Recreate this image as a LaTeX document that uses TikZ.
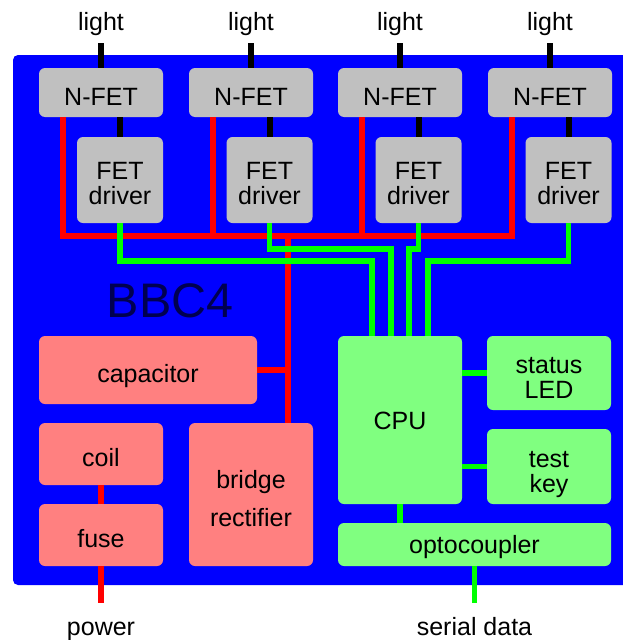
\documentclass[tikz,border=0pt]{standalone}
\usepackage{fontspec}
\setmainfont{Liberation Sans}
\usetikzlibrary{calc}
\definecolor{bgblue}{RGB}{0,0,255}
\definecolor{boxgray}{RGB}{192,192,192}
\definecolor{boxpink}{RGB}{255,128,128}
\definecolor{boxgreen}{RGB}{128,255,128}
\definecolor{wred}{RGB}{255,0,0}
\definecolor{wgreen}{RGB}{0,255,0}
\definecolor{navytext}{RGB}{0,0,80}
% centred lines; last baseline lowered by #2 below the box centre
\newcommand\btext[2]{\raisebox{-#2}[0pt][0pt]{\vbox{\halign{\hfil##\hfil\cr#1\cr}}}}
\begin{document}
\begin{tikzpicture}[x=1pt,y=-1pt,
  box/.style={rounded corners=6pt, inner sep=0pt, font=\fontsize{25}{25}\selectfont, text=black},
  grayb/.style={box, fill=boxgray},
  pinkb/.style={box, fill=boxpink},
  greenb/.style={box, fill=boxgreen},
  lbl/.style={font=\fontsize{25}{25}\selectfont, inner sep=0pt, anchor=base, text=black},
  blackw/.style={line width=6pt, draw=black},
  redw/.style={line width=6pt, draw=wred},
  greenw/.style={line width=5.5pt, draw=wgreen},
]
\useasboundingbox (0,0) rectangle (623,640);
% board
\fill[bgblue] (623,55) -- (18,55) arc[start angle=270, end angle=180, radius=5]
  -- (13,580) arc[start angle=180, end angle=90, radius=5] -- (623,585) -- cycle;
\node[lbl, font=\fontsize{48.5}{50}\selectfont, text=navytext] (title) at (170,317) {BBC4};

% N-FETs and drivers
\foreach \i/\xa/\xb in {1/101/120, 2/251/269.5, 3/400/418.5, 4/550/568.5} {
  \node[grayb, minimum width=124pt, minimum height=49pt] (nfet\i) at (\xa,92.5) {\btext{N-FET}{12.5pt}};
  \node[grayb, minimum width=86pt, minimum height=86pt] (drv\i) at (\xb,180) {\btext{FET\cr driver}{24pt}};
  \node[lbl] (light\i) at (\xa,30.5) {light};
  \coordinate (lt\i) at (\xa,43);
  \coordinate (r\i) at ($(nfet\i.south west)+(24.5,0)$);
}

% power section
\node[pinkb, minimum width=218pt, minimum height=68pt] (cap) at (148,370) {\btext{capacitor}{12pt}};
\node[pinkb, minimum width=124pt, minimum height=62pt] (coil) at (101,454) {\btext{coil}{12.5pt}};
\node[pinkb, minimum width=124pt, minimum height=62pt] (fuse) at (101,535) {\btext{fuse}{12.5pt}};
\node[pinkb, minimum width=124pt, minimum height=143pt] (bridge) at (251,494.5)
  {\btext{bridge\cr\noalign{\vskip13.5pt}rectifier}{32pt}};

% logic section
\node[greenb, minimum width=124pt, minimum height=168pt] (cpu) at (400,420) {\btext{CPU}{9pt}};
\node[greenb, minimum width=124pt, minimum height=74pt] (led) at (549,373) {\btext{status\cr LED}{25pt}};
\node[greenb, minimum width=124pt, minimum height=75pt] (key) at (549,466.5) {\btext{test\cr key}{25.5pt}};
\node[greenb, minimum width=273pt, minimum height=43pt] (opto) at (474.5,544.5) {\btext{optocoupler}{9pt}};

% external labels
\node[lbl] (power) at (101,635) {power};
\node[lbl] (serial) at (474.5,635) {serial data};
\coordinate (pw) at (101,603);
\coordinate (sd) at (474.5,603);

% helper coordinates
\coordinate (rbus) at (0,236);
\coordinate (rv) at ($(bridge.north east)+(-25,0)$);

% black wires
\foreach \i in {1,2,3,4} {
  \draw[blackw] (lt\i) -- (nfet\i.north);
  \draw[blackw] (drv\i.north) -- (drv\i.north |- nfet\i.south);
}

% red wires
\draw[redw] (r1) -- (r1 |- rbus) -- (r4 |- rbus) -- (r4);
\draw[redw] (r2) -- (r2 |- rbus);
\draw[redw] (r3) -- (r3 |- rbus);
\draw[redw] (rv) -- (rv |- rbus);
\draw[redw] (cap.east) -- (cap.east -| rv);
\draw[redw] ($(coil.east)+(0,6)$) -- ($(coil.east)+(0,6)$ -| bridge.west);
\draw[redw] (coil.south) -- (fuse.north);
\draw[redw] (fuse.south) -- (pw);

% green wires
\coordinate (g1) at ($(cpu.north west)+(34,0)$);
\coordinate (g2) at ($(cpu.north west)+(53,0)$);
\coordinate (g3) at ($(cpu.north west)+(71,0)$);
\coordinate (g4) at ($(cpu.north west)+(90,0)$);
\coordinate (ylo) at (0,261);
\coordinate (yhi) at (0,249);
\draw[greenw] (drv1.south) -- (drv1.south |- ylo) -- (g1 |- ylo) -- (g1);
\draw[greenw] (drv2.south) -- (drv2.south |- yhi) -- (g2 |- yhi) -- (g2);
\draw[greenw] (drv3.south) -- (drv3.south |- yhi) -- (g3 |- yhi) -- (g3);
\draw[greenw] (drv4.south) -- (drv4.south |- ylo) -- (g4 |- ylo) -- (g4);
\draw[greenw] (led.west) -- (led.west -| cpu.east);
\draw[greenw] (key.west) -- (key.west -| cpu.east);
\draw[greenw] (cpu.south) -- (cpu.south |- opto.north);
\draw[greenw] (opto.south) -- (sd);
\end{tikzpicture}
\end{document}
